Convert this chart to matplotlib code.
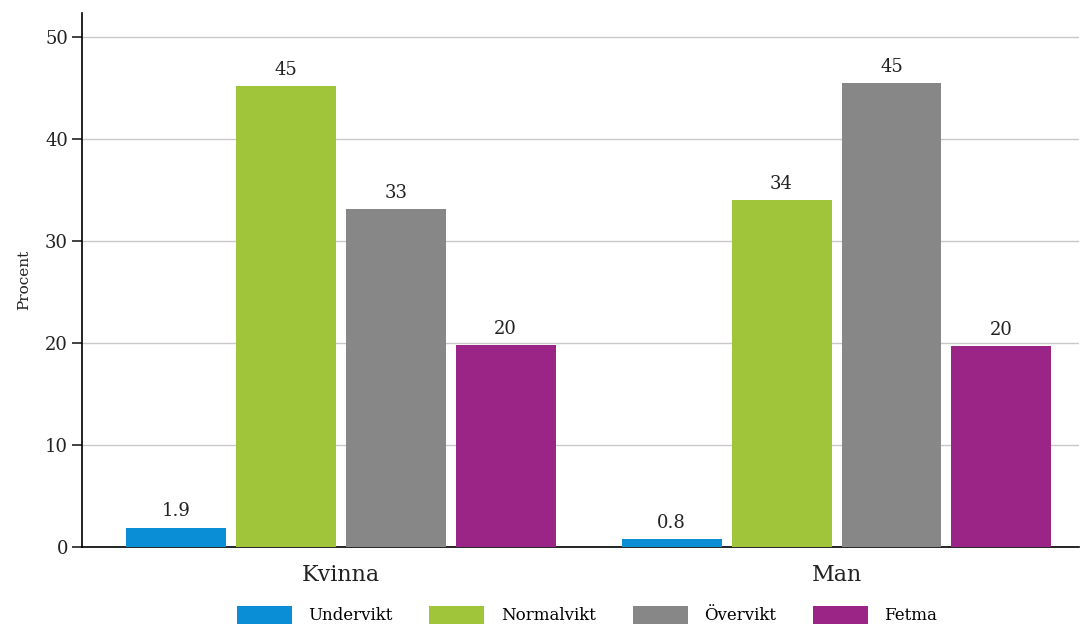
import numpy as np
import matplotlib
matplotlib.use("Agg")
import matplotlib.pyplot as plt

plt.rcParams["font.family"] = ["DejaVu Serif"]

groups = ["Kvinna", "Man"]
series = ["Undervikt", "Normalvikt", "Övervikt", "Fetma"]
values = {
    "Undervikt":  [1.9, 0.8],
    "Normalvikt": [45.2, 34.0],
    "Övervikt":   [33.1, 45.5],
    "Fetma":      [19.8, 19.7],
}
labels = {
    "Undervikt":  ["1.9", "0.8"],
    "Normalvikt": ["45", "34"],
    "Övervikt":   ["33", "45"],
    "Fetma":      ["20", "20"],
}
colors = {
    "Undervikt":  "#0a8fd6",
    "Normalvikt": "#a1c53a",
    "Övervikt":   "#878787",
    "Fetma":      "#9b2487",
}

fig = plt.figure(figsize=(10.83, 6.25), dpi=100)
ax = fig.add_axes([0.0757, 0.1248, 0.921, 0.854])

x = np.arange(len(groups))
width = 0.2016
step = 0.2218
for i, s in enumerate(series):
    pos = x + (i - 1.5) * step
    bars = ax.bar(pos, values[s], width=width, color=colors[s], label=s, zorder=3)
    for b, lab in zip(bars, labels[s]):
        ax.text(b.get_x() + b.get_width() / 2, b.get_height() + 0.7, lab,
                ha="center", va="bottom", fontsize=13, color="#222222")

ax.set_xlim(-0.522, 1.49)
ax.set_ylim(0, 52.3)
ax.set_yticks([0, 10, 20, 30, 40, 50])
ax.yaxis.grid(True, color="#c8c8c8", linewidth=1.0, zorder=0)
ax.set_axisbelow(True)
ax.set_xticks(x)
ax.set_xticklabels(groups, fontsize=16, color="#222222")
ax.tick_params(axis="x", length=0, pad=12)
ax.tick_params(axis="y", length=7, width=1.2, labelsize=13, colors="#222222", pad=3)

for side in ["top", "right"]:
    ax.spines[side].set_visible(False)
ax.spines["left"].set_linewidth(1.2)
ax.spines["bottom"].set_linewidth(1.2)
ax.set_ylabel("Procent", fontsize=11, color="#222222", labelpad=10)

fig.legend(loc="lower center", bbox_to_anchor=(0.542, -0.012), ncol=4, frameon=False,
           fontsize=12, handlelength=3.3, handleheight=1.3, handletextpad=1.0,
           columnspacing=2.2, borderpad=0.0)

fig.savefig("out.png", dpi=100, facecolor="white")
